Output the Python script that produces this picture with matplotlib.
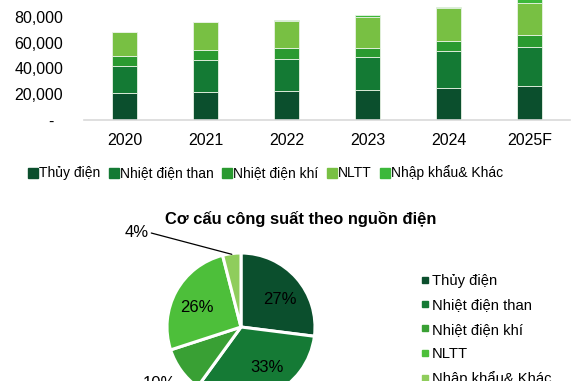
import matplotlib
matplotlib.use("Agg")
import matplotlib.pyplot as plt
from matplotlib.lines import Line2D
import numpy as np

plt.rcParams['font.family'] = ['Liberation Sans', 'DejaVu Sans']

# ---- data ----
years = ["2020", "2021", "2022", "2023", "2024", "2025F"]
series_names = ["Thủy điện", "Nhiệt điện than", "Nhiệt điện khí", "NLTT", "Nhập khẩu& Khác"]
thuy_dien = [20500, 21200, 22300, 22800, 24400, 25900]
nhiet_dien_than = [21000, 25000, 25200, 26200, 29300, 30500]
nhiet_dien_khi = [8300, 8100, 8600, 7100, 7800, 9800]
nltt = [18500, 21800, 21100, 24000, 25600, 24500]
nhap_khau = [400, 400, 500, 1300, 700, 5000]
yticks = [0, 20000, 40000, 60000, 80000]
ytick_labels = ["-  ", "20,000", "40,000", "60,000", "80,000"]

pie_title = "Cơ cấu công suất theo nguồn điện"
pie_values = [27, 33, 10, 26, 4]

bar_colors = ["#0b4f2d", "#147a34", "#2a9a30", "#78c043", "#3cb83a"]
pie_colors = ["#0b4f2d", "#157a35", "#39a034", "#4dbf3a", "#8fcd5c"]

W, H = 573, 381
fig = plt.figure(figsize=(W / 100, H / 100), dpi=100)

# ---- stacked bar chart ----
ax = fig.add_axes([84 / W, 1 - 119.5 / H, (570 - 84) / W, 119.5 / H])
x = np.arange(len(years))
bottom = np.zeros(len(years))
all_series = [thuy_dien, nhiet_dien_than, nhiet_dien_khi, nltt, nhap_khau]
for vals, col, name in zip(all_series, bar_colors, series_names):
    ax.bar(x, vals, width=0.31, bottom=bottom, color=col, edgecolor="#e8f2e4",
           linewidth=0.6, label=name, zorder=2)
    bottom += np.array(vals)
ax.set_xlim(-0.5, len(years) - 0.5)
ax.set_ylim(0, 93300)
ax.set_yticks(yticks)
ax.set_yticklabels(ytick_labels, fontsize=11.5)
ax.set_xticks(x)
ax.set_xticklabels(years, fontsize=11.5)
ax.tick_params(axis='both', length=0)
ax.tick_params(axis='y', pad=15)
ax.tick_params(axis='x', pad=10)
for s in ["top", "right", "left"]:
    ax.spines[s].set_visible(False)
ax.spines["bottom"].set_color("#d9d9d9")
ax.spines["bottom"].set_linewidth(1.2)

handles = [Line2D([], [], marker='s', linestyle='none', markersize=6.5,
                  markerfacecolor=c, markeredgecolor=c) for c in bar_colors]
fig.legend(handles, series_names, loc='center', ncol=5,
           bbox_to_anchor=(266 / W, 1 - 173 / H), frameon=False, fontsize=10,
           handlelength=0.6, handletextpad=0.15, columnspacing=0.65,
           borderaxespad=0, borderpad=0)

# ---- pie chart ----
cx, cy, r = 241, 327, 74
pax = fig.add_axes([(cx - r) / W, 1 - (cy + r) / H, 2 * r / W, 2 * r / H])
wedges, _ = pax.pie(pie_values, colors=pie_colors, startangle=90, counterclock=False,
                    wedgeprops=dict(edgecolor="white", linewidth=2.2))
pax.set_xlim(-1, 1)
pax.set_ylim(-1, 1)
pax.set_aspect('equal')

# label layout (pie-radius units), one per slice; last slice uses a leader line
label_pos = [(0.527, 0.378), (0.351, -0.554), (-1.107, -0.757), (-0.595, 0.27), (-1.25, 1.28)]
for v, (lx, ly) in zip(pie_values[:-1], label_pos[:-1]):
    pax.text(lx, ly, f"{v}%", ha='center', va='center',
             fontsize=12, color='black', clip_on=False)
start = 90.0
for v in pie_values[:-1]:
    start -= v / sum(pie_values) * 360
th = np.deg2rad(start - pie_values[-1] / sum(pie_values) * 180)
pax.annotate(f"{pie_values[-1]}%", xy=(0.99 * np.cos(th), 0.99 * np.sin(th)),
             xytext=label_pos[-1], ha='right', va='center', fontsize=12,
             arrowprops=dict(arrowstyle='-', color='black', lw=0.9,
                             shrinkA=0, shrinkB=0, relpos=(1.0, 0.5)),
             annotation_clip=False)

fig.text(301 / W, 1 - 219 / H, pie_title, ha='center', va='center',
         fontsize=11.9, fontweight='bold')

phandles = [Line2D([], [], marker='s', linestyle='none', markersize=4.5,
                   markerfacecolor=c, markeredgecolor=c) for c in pie_colors]
fig.legend(phandles, series_names, loc='upper left',
           bbox_to_anchor=(421 / W, 1 - 274 / H), frameon=False, fontsize=10.6,
           handlelength=0.5, handletextpad=0.25, labelspacing=0.7,
           borderaxespad=0, borderpad=0)

fig.savefig("out.png", dpi=100)
